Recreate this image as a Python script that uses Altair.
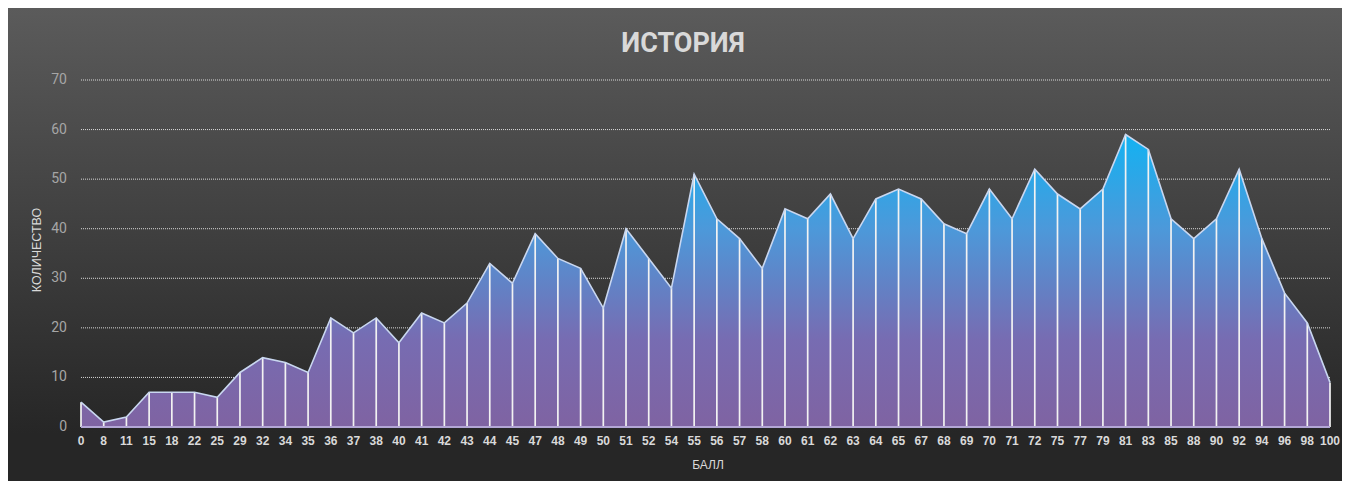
import altair as alt
import pandas as pd

# ---- data ----
scores = ["0", "8", "11", "15", "18", "22", "25", "29", "32", "34", "35", "36", "37", "38",
          "40", "41", "42", "43", "44", "45", "47", "48", "49", "50", "51", "52", "54", "55",
          "56", "57", "58", "60", "61", "62", "63", "64", "65", "67", "68", "69", "70", "71",
          "72", "75", "77", "79", "81", "83", "85", "88", "90", "92", "94", "96", "98", "100"]
counts = [5, 1, 2, 7, 7, 7, 6, 11, 14, 13, 11, 22, 19, 22,
          17, 23, 21, 25, 33, 29, 39, 34, 32, 24, 40, 34, 28, 51,
          42, 38, 32, 44, 42, 47, 38, 46, 48, 46, 41, 39, 48, 42,
          52, 47, 44, 48, 59, 56, 42, 38, 42, 52, 38, 27, 21, 9]
y_ticks = [0, 10, 20, 30, 40, 50, 60, 70]
grid_values = [10, 20, 30, 40, 50, 60, 70]
TITLE = "ИСТОРИЯ"
X_TITLE = "БАЛЛ"
Y_TITLE = "КОЛИЧЕСТВО"

W, H = 1249, 347
PL, PT, PR, PB = 73, 72, 12, 54

df = pd.DataFrame({"score": scores, "count": counts, "zero": [0] * len(scores)})
ticks_df = pd.DataFrame({"t": y_ticks, "lab": [str(v) for v in y_ticks]})
one = pd.DataFrame({"zero": [0]})

xscale = alt.Scale(type="point", padding=0)
yscale = alt.Scale(domain=[0, 70], nice=False, zero=True)
X = alt.X("score:O", sort=None, scale=xscale, axis=None)

# background gradient of the whole chart
bg = alt.Chart(one).mark_rect(
    fill=alt.Gradient(
        gradient="linear",
        x1=0, x2=0, y1=0, y2=1,
        stops=[
            alt.GradientStop(color="#5b5b5b", offset=0),
            alt.GradientStop(color="#262626", offset=0.9),
            alt.GradientStop(color="#262626", offset=1),
        ],
    ),
    strokeWidth=0,
).encode(
    x=alt.value(-PL), x2=alt.value(W + PR),
    y=alt.value(-PT), y2=alt.value(H + PB),
)

grid = alt.Chart(pd.DataFrame({"g": grid_values})).mark_rule(
    color="#d9d9d9", strokeWidth=1, strokeDash=[1, 1]
).encode(y=alt.Y("g:Q", scale=yscale, axis=None))

area = alt.Chart(df).mark_area(
    fill=alt.Gradient(
        gradient="linear",
        x1=0, x2=0, y1=1, y2=0,
        stops=[
            alt.GradientStop(color="#7f63a2", offset=0),
            alt.GradientStop(color="#776cb2", offset=0.3),
            alt.GradientStop(color="#4c99da", offset=0.68),
            alt.GradientStop(color="#12b2f2", offset=1),
        ],
    ),
    opacity=1,
).encode(x=X, y=alt.Y("count:Q", scale=yscale, axis=None))

drops = alt.Chart(df).mark_rule(color="#f2f2f2", strokeWidth=1.7).encode(
    x=X, y=alt.Y("count:Q", scale=yscale, axis=None), y2="zero:Q",
)

outline = alt.Chart(df).mark_line(color="#c9d7f0", strokeWidth=1.6).encode(
    x=X, y=alt.Y("count:Q", scale=yscale, axis=None),
)

baseline = alt.Chart(one).mark_rule(color="#b3a6d6", strokeWidth=2).encode(
    y=alt.Y("zero:Q", scale=yscale, axis=None)
)

x_labels = alt.Chart(df).mark_text(
    font="Liberation Sans", fontSize=12, fontWeight="bold", color="#d9d9d9",
    baseline="middle", align="center",
).encode(x=X, y=alt.value(H + 14), text="score:N")

y_labels = alt.Chart(ticks_df).mark_text(
    font="Roboto", fontSize=14, color="#a6a6a6", baseline="middle", align="right",
).encode(y=alt.Y("t:Q", scale=yscale, axis=None), x=alt.value(-14), text="lab:N")

x_title = alt.Chart(one).mark_text(
    text=X_TITLE, font="Liberation Sans", fontSize=12, color="#d9d9d9",
    baseline="middle", align="center",
).encode(x=alt.value(627), y=alt.value(H + 38))

y_title = alt.Chart(one).mark_text(
    text=Y_TITLE, font="Liberation Sans", fontSize=12.5, color="#d9d9d9",
    baseline="middle", align="center", angle=270,
).encode(x=alt.value(-44), y=alt.value(170))

title = alt.Chart(one).mark_text(
    text=TITLE, font="Roboto", fontSize=27, fontWeight="bold", color="#d9d9d9",
    baseline="middle", align="center",
).encode(x=alt.value(602), y=alt.value(-36))

chart = alt.layer(
    bg, grid, area, drops, outline, baseline, x_labels, y_labels, x_title, y_title, title
).properties(
    width=W, height=H,
    padding={"left": PL, "top": PT, "right": PR, "bottom": PB},
    autosize=alt.AutoSizeParams(type="none"),
).configure(background="#262626").configure_view(stroke=None)

chart.save("out.html", embed_options={"renderer": "svg", "actions": False})
